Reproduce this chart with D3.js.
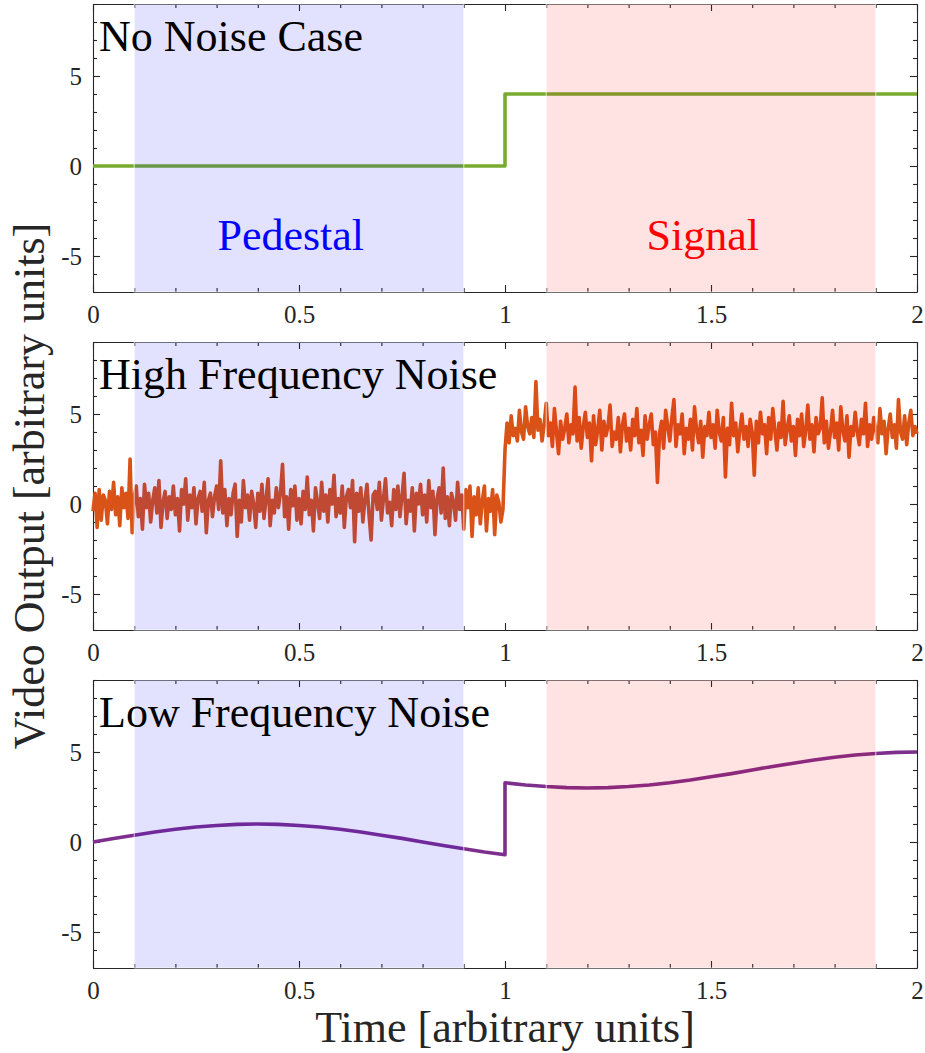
<!DOCTYPE html>
<html>
<head>
<meta charset="utf-8">
<script src="https://cdn.jsdelivr.net/npm/d3@7"></script>
<style>
  body { margin: 0; background: #fff; }
  svg { display: block; font-family: "Liberation Serif", serif; }
  svg text { font-family: "Liberation Serif", serif; }
</style>
</head>
<body>
<svg id="chart"></svg>
<script>
// data
const panelTitles = ["No Noise Case", "High Frequency Noise", "Low Frequency Noise"]
const lineColors = ["#77ac30", "#d95319", "#7e2f8e"]
const regionNames = ["Pedestal", "Signal"]
const regionColors = ["#0000ff", "#ff0000"]
const regionStart = [0.1, 1.1]
const regionEnd = [0.9, 1.9]

const xMajor = [0, 0.5, 1, 1.5, 2]
const xMinor = [0.1, 0.2, 0.3, 0.4, 0.6, 0.7, 0.8, 0.9, 1.1, 1.2, 1.3, 1.4, 1.6, 1.7, 1.8, 1.9]
const yMajor = [-5, 0, 5]
const yMinor = [-7, -6, -4, -3, -2, -1, 1, 2, 3, 4, 6, 7, 8, 9]

// no noise: step at t = 1
const stepTime = [0, 1, 1, 2]
const stepValue = [0, 0, 4, 4]

// high frequency noise, one sample every 0.005
const hfStep = 0.005
const hfValue = [
  -0.4, 0.6, -1.3, 0.8, -0.9, 0.5, 0.2, -1.1, 0.7, -0.3, 1.2, -0.6, 0.4, -1.2, 0.9, -0.2, 0.6, -0.8, 2.5, -1.6,
  0.4, 1.0, -0.7, 0.3, -1.4, 1.1, -0.2, 0.6, -1.0, 0.2, 0.9, -0.5, 1.3, -1.3, 0.1, 0.7, -0.8, 0.4, -0.3, 1.0,
  -0.6, 0.3, -1.5, 0.8, 0.0, 1.4, -0.9, 0.5, -0.2, 0.9, -1.1, 0.3, 0.7, -0.4, 1.2, -1.6, 0.2, 0.6, -0.7, 0.4,
  1.0, -0.3, 2.4, -0.5, 0.8, -1.2, 0.3, -0.6, 0.6, 1.1, -1.8, 0.2, -1.0, 1.3, -0.2, 0.5, -0.9, 0.7, 0.0, -1.3,
  0.6, -0.4, 1.1, -0.8, 0.3, 1.4, -1.2, 0.2, -0.5, 0.9, -0.2, 0.6, 2.2, -0.7, 0.4, -1.4, 0.8, -0.1, 1.0, -0.9,
  0.3, -1.1, 0.7, -0.3, 1.5, -0.6, 0.2, -1.5, 0.9, 0.1, -0.8, 1.2, -0.4, 0.5, -1.0, 0.8, 0.0, 1.6, -0.7, 0.3,
  -0.5, 1.0, -1.3, 0.4, 0.8, -0.2, 1.3, -2.1, 0.6, -0.4, 0.9, -1.0, 0.2, 1.1, -0.6, -2.0, 0.5, 0.7, -0.3, 1.2,
  -0.9, 0.3, 1.4, -0.5, 0.1, -1.2, 0.8, -0.3, 1.0, -0.7, 0.4, 1.7, -1.1, 0.2, -0.4, 0.9, -1.5, 0.6, 0.0, 1.1,
  -0.6, 0.5, -1.0, 1.3, -0.2, 0.7, -1.7, 0.3, 0.9, -0.5, 2.0, -0.8, 0.4, -1.2, 0.6, 0.1, -0.9, 1.2, -0.3, 0.5,
  -1.4, 0.8, -0.2, 1.0, -1.8, 0.4, -0.6, 0.9, -1.1, 0.2, 1.0, -1.5, 0.3, -0.4, 0.8, -1.7, 0.5, 0.1, -1.0, -0.3,
  3.0, 4.5, 3.4, 4.9, 3.8, 4.2, 3.5, 5.2, 4.0, 3.6, 5.4, 4.3, 3.9, 4.8, 3.7, 6.8, 4.1, 4.7, 3.5, 4.4,
  5.6, 3.8, 4.5, 3.2, 5.3, 4.0, 2.8, 4.6, 3.6, 4.2, 5.0, 3.4, 4.4, 3.9, 6.5, 3.5, 4.8, 3.1, 4.3, 5.1,
  3.7, 4.5, 2.4, 4.9, 3.3, 4.1, 5.2, 3.0, 4.6, 3.8, 4.3, 5.5, 3.2, 4.0, 3.6, 4.8, 2.9, 4.4, 5.0, 3.5,
  4.2, 3.0, 4.7, 3.8, 5.3, 3.4, 4.1, 2.7, 4.9, 3.6, 4.4, 5.0, 3.3, 4.0, 1.2, 3.9, 4.6, 3.1, 5.2, 4.3,
  3.5, 4.8, 5.8, 3.2, 4.4, 3.9, 5.0, 2.8, 4.2, 3.6, 4.7, 3.0, 5.4, 4.1, 3.4, 4.6, 2.6, 4.3, 3.8, 5.1,
  3.7, 4.4, 3.1, 5.2, 4.0, 3.5, 4.8, 1.5, 4.2, 3.3, 5.6, 3.8, 4.5, 2.9, 4.1, 5.0, 3.6, 4.3, 3.2, 4.7,
  4.0, 1.6, 4.6, 3.4, 5.1, 3.9, 4.4, 2.8, 4.8, 3.6, 5.3, 4.1, 3.0, 4.5, 3.7, 5.7, 3.3, 4.2, 4.9, 3.5,
  4.3, 2.7, 4.7, 3.8, 5.0, 3.2, 4.1, 5.5, 3.6, 4.4, 2.9, 4.8, 3.9, 4.2, 5.9, 3.4, 4.6, 3.1, 4.0, 5.2,
  3.7, 4.5, 3.0, 5.4, 4.1, 3.5, 4.9, 2.6, 4.3, 3.8, 5.1, 4.0, 3.3, 4.7, 3.9, 5.6, 3.2, 4.4, 3.6, 4.8,
  4.1, 3.4, 5.3, 3.9, 4.6, 2.8, 4.2, 5.0, 3.7, 4.4, 3.1, 5.8, 4.0, 3.6, 4.9, 3.3, 4.5, 5.2, 3.8, 4.3,
  3.9
]

// low frequency noise
const lfTime = [0, 0.05, 0.1, 0.15, 0.2, 0.25, 0.3, 0.35, 0.4, 0.45, 0.5, 0.55, 0.6, 0.65, 0.7, 0.75, 0.8, 0.85, 0.9, 0.95, 1,
  1, 1.05, 1.1, 1.15, 1.2, 1.25, 1.3, 1.35, 1.4, 1.45, 1.5, 1.55, 1.6, 1.65, 1.7, 1.75, 1.8, 1.85, 1.9, 1.95, 2]
const lfValue = [0, 0.2, 0.38, 0.56, 0.71, 0.83, 0.92, 0.98, 1.0, 0.98, 0.92, 0.83, 0.71, 0.56, 0.38, 0.2, 0.0, -0.2, -0.38, -0.56, -0.71,
  3.29, 3.17, 3.08, 3.02, 3.0, 3.02, 3.08, 3.17, 3.29, 3.44, 3.62, 3.8, 4.0, 4.2, 4.38, 4.56, 4.71, 4.83, 4.92, 4.98, 5.0]

const series = [
  stepTime.map((t, i) => ({t: t, v: stepValue[i]})),
  hfValue.map((v, i) => ({t: i * hfStep, v: v})),
  lfTime.map((t, i) => ({t: t, v: lfValue[i]}))
]

const width = 925
const height = 1053
const margin = {left: 93, right: 8}
const panelTop = [4, 342, 680]
const panelHeight = 288
const axisColor = "#262626"
const serif = "'Liberation Serif', serif"

const svg = d3.select("#chart")
  .attr("width", width)
  .attr("height", height)
  .attr("viewBox", [0, 0, width, height])

const x = d3.scaleLinear()
  .domain([0, 2])
  .range([margin.left, width - margin.right])

// one panel
function drawPanel(p) {
  const top = panelTop[p]
  const bottom = top + panelHeight
  const y = d3.scaleLinear().domain([-7, 9]).range([bottom, top])
  const g = svg.append("g").attr("class", "panel")

  const styleAxis = a => a
    .attr("color", axisColor)
    .attr("font-size", 25)
    .attr("font-family", serif)
    .call(a => a.selectAll("text").style("font-family", serif))
    .call(a => a.selectAll("path, line").attr("stroke-width", 1.1))

  // bottom
  g.append("g")
    .attr("transform", `translate(0,${bottom})`)
    .call(d3.axisBottom(x).tickValues(xMajor).tickSize(-7).tickSizeOuter(0).tickPadding(13).tickFormat(d => String(d)))
    .call(styleAxis)
  g.append("g")
    .attr("transform", `translate(0,${bottom})`)
    .call(d3.axisBottom(x).tickValues(xMinor).tickSize(-4).tickFormat(""))
    .call(a => a.select(".domain").remove())
    .call(styleAxis)
  // top
  g.append("g")
    .attr("transform", `translate(0,${top})`)
    .call(d3.axisTop(x).tickValues(xMajor).tickSize(-7).tickSizeOuter(0).tickFormat(""))
    .call(styleAxis)
  g.append("g")
    .attr("transform", `translate(0,${top})`)
    .call(d3.axisTop(x).tickValues(xMinor).tickSize(-4).tickFormat(""))
    .call(a => a.select(".domain").remove())
    .call(styleAxis)
  // left
  g.append("g")
    .attr("transform", `translate(${margin.left},0)`)
    .call(d3.axisLeft(y).tickValues(yMajor).tickSize(-7).tickSizeOuter(0).tickPadding(11).tickFormat(d => String(d)))
    .call(styleAxis)
  g.append("g")
    .attr("transform", `translate(${margin.left},0)`)
    .call(d3.axisLeft(y).tickValues(yMinor).tickSize(-4).tickFormat(""))
    .call(a => a.select(".domain").remove())
    .call(styleAxis)
  // right
  g.append("g")
    .attr("transform", `translate(${width - margin.right},0)`)
    .call(d3.axisRight(y).tickValues(yMajor).tickSize(-7).tickSizeOuter(0).tickFormat(""))
    .call(styleAxis)
  g.append("g")
    .attr("transform", `translate(${width - margin.right},0)`)
    .call(d3.axisRight(y).tickValues(yMinor).tickSize(-4).tickFormat(""))
    .call(a => a.select(".domain").remove())
    .call(styleAxis)

  // signal line
  const line = d3.line()
    .x(d => x(d.t))
    .y(d => y(d.v))
  g.append("path")
    .datum(series[p])
    .attr("fill", "none")
    .attr("stroke", lineColors[p])
    .attr("stroke-width", 3.6)
    .attr("stroke-linejoin", "round")
    .attr("d", line)

  // shaded pedestal / signal windows, drawn over everything
  g.append("g")
    .selectAll("rect")
    .data(regionNames)
    .join("rect")
    .attr("x", (d, i) => x(regionStart[i]))
    .attr("width", (d, i) => x(regionEnd[i]) - x(regionStart[i]))
    .attr("y", top)
    .attr("height", panelHeight)
    .attr("fill", (d, i) => regionColors[i])
    .attr("fill-opacity", 0.115)
    .attr("stroke", "#fff")
    .attr("stroke-opacity", 0.7)
    .attr("stroke-width", 1)

  g.append("text")
    .attr("x", 99)
    .attr("y", top + 47)
    .attr("font-size", 44)
    .attr("fill", "#000")
    .text(panelTitles[p])

  if (p === 0) {
    g.append("g")
      .selectAll("text")
      .data(regionNames)
      .join("text")
      .attr("x", (d, i) => x((regionStart[i] + regionEnd[i]) / 2 - 0.02))
      .attr("y", top + 246)
      .attr("text-anchor", "middle")
      .attr("font-size", 44)
      .attr("fill", (d, i) => regionColors[i])
      .text(d => d)
  }
}

panelTitles.forEach((t, p) => drawPanel(p))

// axis titles
svg.append("text")
  .attr("x", x(1))
  .attr("y", 1042)
  .attr("text-anchor", "middle")
  .attr("font-size", 44)
  .attr("fill", axisColor)
  .text("Time [arbitrary units]")

svg.append("text")
  .attr("transform", `translate(44,${(panelTop[0] + panelTop[2] + panelHeight) / 2}) rotate(-90)`)
  .attr("text-anchor", "middle")
  .attr("font-size", 44)
  .attr("fill", axisColor)
  .text("Video Output [arbitrary units]")
</script>
</body>
</html>
